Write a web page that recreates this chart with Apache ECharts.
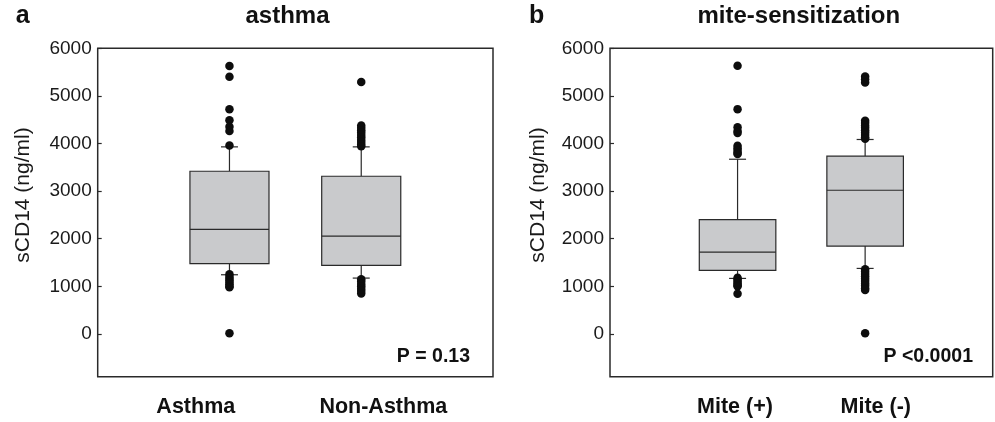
<!DOCTYPE html>
<html>
<head>
<meta charset="utf-8">
<script src="https://cdn.jsdelivr.net/npm/echarts@6/dist/echarts.min.js"></script>
<style>
  html, body { margin: 0; padding: 0; background: #ffffff; }
  #chart { width: 995px; height: 422px; }
</style>
</head>
<body>
<div id="chart"></div>
<script>
// ---- data ----
const panelLetters = ['a', 'b'];
const panelTitles = ['asthma', 'mite-sensitization'];
const categoriesA = ['Asthma', 'Non-Asthma'];
const categoriesB = ['Mite (+)', 'Mite (-)'];
const pTexts = ['P = 0.13', 'P <0.0001'];
const yAxisTitle = 'sCD14 (ng/ml)';

// [lower whisker, Q1, median, Q3, upper whisker]
const boxAsthma = [1242, 1474, 2196, 3417, 3929];
const boxNonAsthma = [1172, 1438, 2055, 3312, 3929];
const boxMitePos = [1165, 1333, 1719, 2400, 3669];
const boxMiteNeg = [1375, 1845, 3017, 3733, 4084];

const outAsthma = [5630, 5400, 4720, 4490, 4350, 4260, 3960, 1250, 1200, 1160, 1120, 1080, 1040, 1000, 980, 15];
const outNonAsthma = [5290, 4380, 4330, 4280, 4230, 4180, 4130, 4080, 4030, 3980, 3940, 1150, 1100, 1050, 1000, 950, 900, 850];
const outMitePos = [5634, 4722, 4340, 4260, 4220, 3950, 3900, 3850, 3800, 3780, 1180, 1140, 1100, 1060, 1020, 1000, 845];
const outMiteNeg = [5410, 5350, 5280, 4480, 4430, 4380, 4330, 4280, 4230, 4180, 4130, 4100, 1360, 1310, 1260, 1210, 1160, 1110, 1060, 1010, 960, 920, 15];

const yMin = -900, yMax = 6000, yStep = 1000;

// ---- styling constants ----
const FONT = '"Liberation Sans", Arial, Helvetica, sans-serif';
const BOX_HALF = 0.3;     // in x-axis units
const CAP_HALF = 8.5;     // px
const FILL = '#c9cacc';
const EDGE = '#2a2a2a';

function renderBox(params, api) {
  const x = api.value(0);
  const lo = api.value(1), q1 = api.value(2), med = api.value(3), q3 = api.value(4), hi = api.value(5);
  const tl = api.coord([x - BOX_HALF, q3]);
  const br = api.coord([x + BOX_HALF, q1]);
  const mL = api.coord([x - BOX_HALF, med]);
  const mR = api.coord([x + BOX_HALF, med]);
  const cHi = api.coord([x, hi]);
  const cLo = api.coord([x, lo]);
  const cx = cHi[0];
  const ls = { stroke: EDGE, lineWidth: 1.2 };
  return {
    type: 'group',
    children: [
      { type: 'line', shape: { x1: cx, y1: tl[1], x2: cx, y2: cHi[1] }, style: ls },
      { type: 'line', shape: { x1: cx - CAP_HALF, y1: cHi[1], x2: cx + CAP_HALF, y2: cHi[1] }, style: ls },
      { type: 'line', shape: { x1: cx, y1: br[1], x2: cx, y2: cLo[1] }, style: ls },
      { type: 'line', shape: { x1: cx - CAP_HALF, y1: cLo[1], x2: cx + CAP_HALF, y2: cLo[1] }, style: ls },
      { type: 'rect', shape: { x: tl[0], y: tl[1], width: br[0] - tl[0], height: br[1] - tl[1] },
        style: { fill: FILL, stroke: EDGE, lineWidth: 1.2 } },
      { type: 'line', shape: { x1: mL[0], y1: mL[1], x2: mR[0], y2: mR[1] }, style: ls }
    ]
  };
}

function boxData(list) { return list.map((b, i) => [i + 1].concat(b)); }
function outData(lists) {
  const d = [];
  lists.forEach((l, i) => l.forEach(v => d.push([i + 1, v])));
  return d;
}

const grids = [
  { left: 97.7, top: 48.3, width: 395.3, height: 328.4 },
  { left: 610, top: 48.3, width: 382.7, height: 328.4 }
];

function yAx(i) {
  return {
    type: 'value', gridIndex: i, min: yMin, max: yMax,
    minInterval: yStep, maxInterval: yStep, splitNumber: 7,
    axisLine: { show: false },
    axisTick: { show: true, inside: true, length: 4, lineStyle: { color: EDGE, width: 1.2 } },
    splitLine: { show: false },
    axisLabel: { showMinLabel: false, fontFamily: FONT, fontSize: 19, color: '#1a1a1a', margin: 6,
      formatter: (v) => String(v) }
  };
}
function xAx(i) {
  return { type: 'value', gridIndex: i, min: 0, max: 3, show: false };
}

const chart = echarts.init(document.getElementById('chart'), null, { renderer: 'canvas' });

const bold = (s) => ({ fontFamily: FONT, fontWeight: 'bold', fontSize: s, fill: '#111' });
function txt(text, x, y, size, align) {
  return { type: 'text', x: x, y: y, style: Object.assign({ text: text, textAlign: align || 'center', textVerticalAlign: 'middle' }, bold(size)) };
}

const graphics = [
  txt(panelLetters[0], 22.7, 16, 25),
  txt(panelLetters[1], 536.7, 16, 25),
  txt(panelTitles[0], 287.5, 16.5, 24),
  txt(panelTitles[1], 798.8, 16.5, 24),
  txt(categoriesA[0], 195.8, 407, 21.5),
  txt(categoriesA[1], 383.3, 407, 21.5),
  txt(categoriesB[0], 735, 407, 21.5),
  txt(categoriesB[1], 875.8, 407, 21.5),
  txt(pTexts[0], 470, 356.7, 19.5, 'right'),
  txt(pTexts[1], 973, 356.7, 19.5, 'right'),
  { type: 'text', x: 23, y: 195, rotation: Math.PI / 2, style: { text: yAxisTitle, textAlign: 'center', textVerticalAlign: 'middle', fontFamily: FONT, fontSize: 21, fill: '#1a1a1a' } },
  { type: 'text', x: 538.3, y: 195, rotation: Math.PI / 2, style: { text: yAxisTitle, textAlign: 'center', textVerticalAlign: 'middle', fontFamily: FONT, fontSize: 21, fill: '#1a1a1a' } }
];

chart.setOption({
  animation: false,
  backgroundColor: '#ffffff',
  grid: grids.map(g => Object.assign({ show: true, borderColor: EDGE, borderWidth: 1.5, backgroundColor: 'transparent' }, g)),
  xAxis: [xAx(0), xAx(1)],
  yAxis: [yAx(0), yAx(1)],
  series: [
    { type: 'custom', xAxisIndex: 0, yAxisIndex: 0, renderItem: renderBox, data: boxData([boxAsthma, boxNonAsthma]), z: 2 },
    { type: 'custom', xAxisIndex: 1, yAxisIndex: 1, renderItem: renderBox, data: boxData([boxMitePos, boxMiteNeg]), z: 2 },
    { type: 'scatter', xAxisIndex: 0, yAxisIndex: 0, symbol: 'circle', symbolSize: 8.5, itemStyle: { color: '#0d0d0d', opacity: 1 }, data: outData([outAsthma, outNonAsthma]), z: 3 },
    { type: 'scatter', xAxisIndex: 1, yAxisIndex: 1, symbol: 'circle', symbolSize: 8.5, itemStyle: { color: '#0d0d0d', opacity: 1 }, data: outData([outMitePos, outMiteNeg]), z: 3 }
  ],
  graphic: graphics
});
</script>
</body>
</html>
